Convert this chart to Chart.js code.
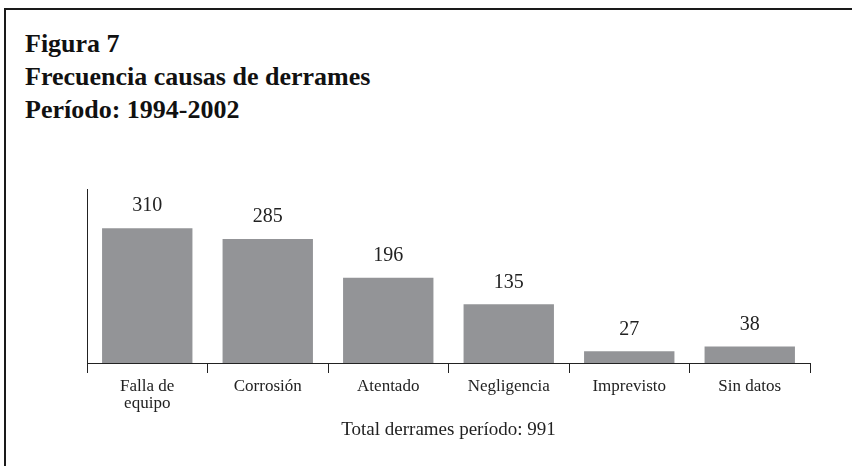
<!DOCTYPE html>
<html>
<head>
<meta charset="utf-8">
<script src="https://cdn.jsdelivr.net/npm/chart.js@4"></script>
<style>
  html, body { margin: 0; padding: 0; background: #fff; overflow: hidden; }
  #wrap { position: relative; width: 852px; height: 466px; overflow: hidden; }
  .frame { position: absolute; left: 4px; top: 8px; width: 900px; height: 520px; border: 2px solid #1a1a1a; }
  .titulo {
    position: absolute; left: 25px; top: 27px;
    font-family: "Liberation Serif", "DejaVu Serif", serif;
    font-weight: bold; font-size: 26px; line-height: 33px; color: #111;
  }
  canvas { position: absolute; left: 0; top: 0; }
</style>
</head>
<body>
<div id="wrap">
  <div class="frame"></div>
  <div class="titulo">Figura 7<br>Frecuencia causas de derrames<br>Período: 1994-2002</div>
  <canvas id="grafico" width="852" height="466"></canvas>
</div>
<script>
// === DATOS ===
const categorias = [["Falla de", "equipo"], "Corrosión", "Atentado", "Negligencia", "Imprevisto", "Sin datos"];
const valores = [310, 285, 196, 135, 27, 38];
const totalTexto = "Total derrames período: 991";

const FUENTE = '"Liberation Serif", "DejaVu Serif", serif';
const TINTA = "#222";

// etiquetas de valor encima de cada barra
const etiquetasValor = {
    id: "etiquetasValor",
    afterDatasetsDraw(chart) {
        const ctx = chart.ctx;
        const meta = chart.getDatasetMeta(0);
        ctx.save();
        ctx.font = "20px " + FUENTE;
        ctx.fillStyle = TINTA;
        ctx.textAlign = "center";
        ctx.textBaseline = "bottom";
        meta.data.forEach((bar, i) => {
            ctx.fillText(String(valores[i]), bar.x, bar.y - 12);
        });
        ctx.restore();
    }
};

new Chart(document.getElementById("grafico"), {
    type: "bar",
    data: {
        labels: categorias,
        datasets: [{
            data: valores,
            backgroundColor: "#939497",
            borderWidth: 0,
            barPercentage: 0.75,
            categoryPercentage: 1
        }]
    },
    options: {
        responsive: false,
        devicePixelRatio: 1,
        animation: false,
        layout: { padding: { left: 87, right: 42, top: 189, bottom: 0 } },
        plugins: {
            legend: { display: false },
            tooltip: { enabled: false }
        },
        scales: {
            x: {
                offset: true,
                grid: {
                    display: true,
                    offset: true,
                    drawOnChartArea: false,
                    drawTicks: true,
                    tickLength: 10,
                    color: TINTA,
                    lineWidth: 1
                },
                border: { display: true, color: TINTA, width: 1 },
                ticks: {
                    color: TINTA,
                    padding: 5,
                    maxRotation: 0,
                    autoSkip: false,
                    font: { family: FUENTE, size: 17, lineHeight: 1.02 }
                },
                title: {
                    display: true,
                    text: totalTexto,
                    color: TINTA,
                    font: { family: FUENTE, size: 19 },
                    padding: { top: 0, bottom: 25 }
                },
                afterFit: (s) => { s.height = 103; }
            },
            y: {
                min: 0,
                max: 400,
                grid: { display: false, drawTicks: false },
                border: { display: true, color: TINTA, width: 1 },
                ticks: { display: false },
                afterFit: (s) => { s.width = 0; }
            }
        }
    },
    plugins: [etiquetasValor]
});
</script>
</body>
</html>
